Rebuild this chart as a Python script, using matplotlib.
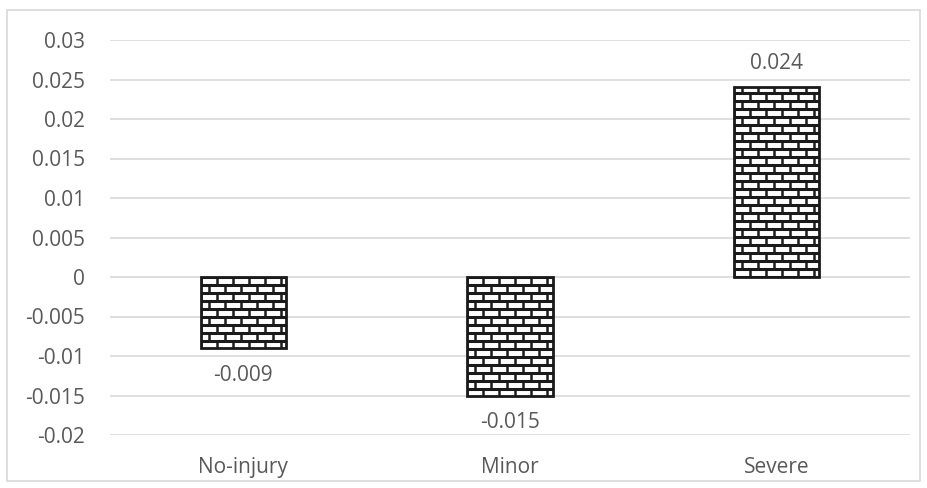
import numpy as np
import matplotlib
matplotlib.use('Agg')
import matplotlib.pyplot as plt
from matplotlib.patches import Rectangle

categories = ['No-injury', 'Minor', 'Severe']
values = [-0.009, -0.015, 0.024]
labels = ['-0.009', '-0.015', '0.024']
yticks = [-0.02, -0.015, -0.01, -0.005, 0, 0.005, 0.01, 0.015, 0.02, 0.025, 0.03]
yticklabels = ['-0.02', '-0.015', '-0.01', '-0.005', '0', '0.005', '0.01', '0.015', '0.02', '0.025', '0.03']

plt.rcParams['font.family'] = ['Open Sans', 'DejaVu Sans']
grey = '#595959'

fig = plt.figure(figsize=(9.28, 4.88), dpi=100)
ax = fig.add_axes([110/928, 1-435/488, 800/928, 395/488])

x = np.arange(len(categories))
bars = ax.bar(x, values, width=0.32, color='white', edgecolor='#1a1a1a', linewidth=2, zorder=3)

# brick texture, clipped to each bar
row_h = 0.00101
brick_w = 0.06
for b in bars:
    x0, y0 = b.get_x(), b.get_y()
    w, h = b.get_width(), b.get_height()
    ylo, yhi = min(y0, y0 + h), max(y0, y0 + h)
    ys = np.arange(np.floor(ylo / row_h) * row_h, yhi + row_h, row_h)
    hl = ax.hlines(ys, x0, x0 + w, colors='#1a1a1a', linewidth=2.2, zorder=4)
    hl.set_clip_path(b)
    for i in range(len(ys) - 1):
        off = 0 if i % 2 == 0 else brick_w / 2
        xs = np.arange(x0 - brick_w + off, x0 + w + brick_w, brick_w)
        vl = ax.vlines(xs, ys[i], ys[i + 1], colors='#1a1a1a', linewidth=1.8, zorder=4)
        vl.set_clip_path(b)

for xi, v, lab in zip(x, values, labels):
    if v < 0:
        ax.annotate(lab, (xi, v), xytext=(0, -12), textcoords='offset points',
                    ha='center', va='top', fontsize=15, color=grey)
    else:
        ax.annotate(lab, (xi, v), xytext=(0, 10), textcoords='offset points',
                    ha='center', va='bottom', fontsize=15, color=grey)

ax.set_xlim(-0.5, 2.5)
ax.set_ylim(-0.02, 0.03)
ax.set_yticks(yticks)
ax.set_yticklabels(yticklabels)
ax.set_xticks(x)
ax.set_xticklabels(categories)
ax.yaxis.grid(True, color='#d9d9d9', linewidth=1.2, zorder=0)
ax.set_axisbelow(True)
for s in ax.spines.values():
    s.set_visible(False)
ax.tick_params(axis='y', length=0, pad=18, labelsize=15, labelcolor=grey)
ax.tick_params(axis='x', length=0, pad=16, labelsize=15, labelcolor=grey)

fig.patches.append(Rectangle((7/928, 1-481/488), 913/928, 471/488, transform=fig.transFigure,
                             fill=False, edgecolor='#d9d9d9', linewidth=1.2))

plt.savefig('out.png', dpi=100)
